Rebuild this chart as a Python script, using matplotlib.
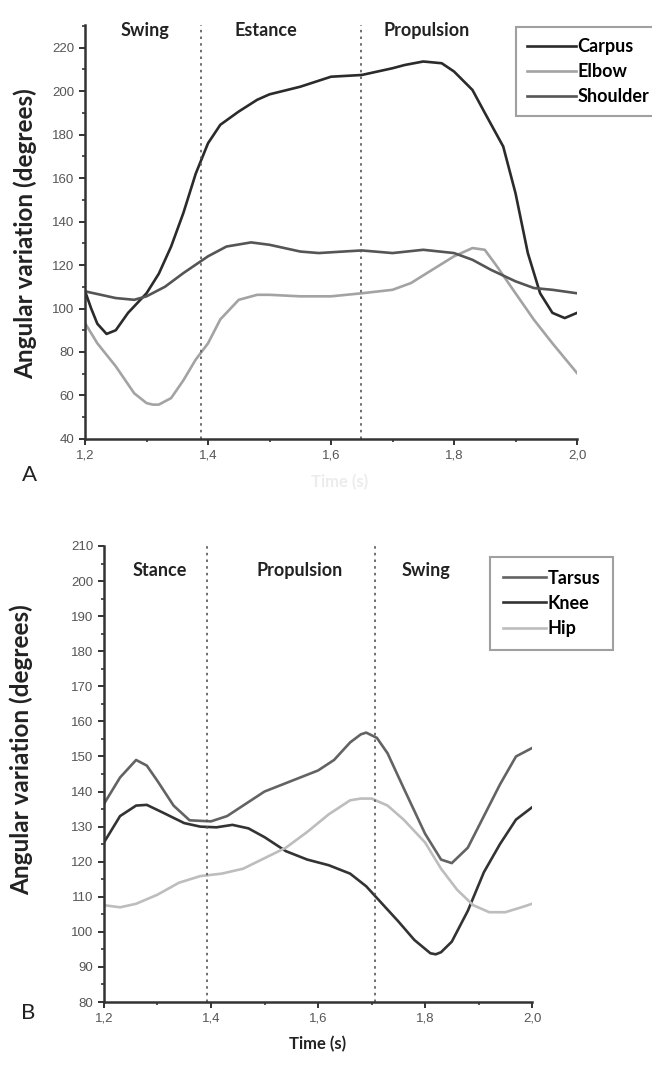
import matplotlib.pyplot as plt
from matplotlib.ticker import FuncFormatter, MultipleLocator

# Panel A: forelimb joints
time_a = [1.2, 1.21, 1.22, 1.235, 1.25, 1.27, 1.3, 1.32, 1.34, 1.36, 1.38, 1.4,
          1.42, 1.45, 1.48, 1.5, 1.55, 1.6, 1.65, 1.7, 1.72, 1.75, 1.78, 1.8, 1.83,
          1.85, 1.88, 1.9, 1.92, 1.94, 1.96, 1.98, 2.0]
carpus = [108, 100, 93, 88.3, 90, 98, 107, 116, 128.5, 144, 162, 176,
          184.5, 190.6, 196, 198.5, 202, 206.6, 207.4, 210.5, 212, 213.6, 212.8, 209, 200.5,
          190, 174.5, 153, 125.5, 107, 98, 95.6, 98]

time_elbow = [1.2, 1.22, 1.25, 1.28, 1.3, 1.31, 1.32, 1.34, 1.36, 1.38, 1.4, 1.42, 1.45,
              1.48, 1.5, 1.55, 1.6, 1.65, 1.7, 1.73, 1.76, 1.8, 1.83, 1.85, 1.87,
              1.9, 1.93, 1.96, 2.0]
elbow = [93.3, 84, 73.4, 61, 56.5, 55.8, 55.8, 58.8, 67, 76.5, 84, 95, 104,
         106.3, 106.3, 105.6, 105.6, 107, 108.6, 111.7, 117, 124, 127.8, 127, 119.3,
         107, 94.8, 84, 70.3]

time_shoulder = [1.2, 1.25, 1.28, 1.3, 1.33, 1.36, 1.4, 1.43, 1.47, 1.5, 1.55, 1.58,
                 1.62, 1.65, 1.7, 1.75, 1.8, 1.83, 1.86, 1.9, 1.93, 1.96, 2.0]
shoulder = [107.9, 104.8, 104, 105.6, 110, 116.3, 124, 128.5, 130.4, 129.3, 126.2, 125.5,
            126.2, 126.7, 125.5, 127, 125.5, 122.4, 117.8, 112.5, 109.4, 108.6, 107]

# Panel B: hindlimb joints
time_tarsus = [1.2, 1.23, 1.26, 1.28, 1.3, 1.33, 1.36, 1.4, 1.43, 1.46, 1.5, 1.55,
               1.6, 1.63, 1.66, 1.68, 1.69, 1.71, 1.73, 1.76, 1.8, 1.83, 1.85, 1.88, 1.91,
               1.94, 1.97, 2.0]
tarsus = [136.5, 144, 149, 147.4, 143, 136, 131.8, 131.5, 133, 136, 140, 143,
          146, 149, 154, 156.3, 156.8, 155.3, 150.9, 141, 128, 120.6, 119.6, 124, 133,
          142, 150, 152.4]

time_knee = [1.2, 1.23, 1.26, 1.28, 1.31, 1.35, 1.38, 1.41, 1.44, 1.47, 1.5, 1.54,
             1.58, 1.62, 1.66, 1.69, 1.72, 1.75, 1.78, 1.81, 1.82, 1.83, 1.85, 1.88, 1.91,
             1.94, 1.97, 2.0]
knee = [125.5, 133, 136, 136.2, 134, 131, 130, 129.8, 130.5, 129.5, 127, 123,
        120.6, 119, 116.6, 113, 108, 103, 97.7, 93.9, 93.6, 94.2, 97.2, 106, 117,
        125, 132, 135.5]

time_hip = [1.2, 1.23, 1.26, 1.3, 1.34, 1.38, 1.42, 1.46, 1.5, 1.54, 1.58, 1.62,
            1.66, 1.68, 1.7, 1.73, 1.76, 1.8, 1.83, 1.86, 1.89, 1.92, 1.95, 1.98, 2.0]
hip = [107.6, 107, 108, 110.6, 114, 115.9, 116.6, 118, 121, 124, 128.5, 133.5,
       137.5, 138, 138, 136, 132, 125.5, 118, 112, 107.6, 105.6, 105.6, 107, 108]

PHASES_A = [("Swing", 1.298), ("Estance", 1.494), ("Propulsion", 1.755)]
PHASES_B = [("Stance", 1.305), ("Propulsion", 1.565), ("Swing", 1.802)]
BOUNDS_A = [1.389, 1.649]
BOUNDS_B = [1.392, 1.707]

BOLD = "Lato"
TICK_FONT = "Liberation Sans"


def comma(x, _pos):
    return f"{x:.1f}".replace(".", ",")


def style_axes(ax, ylim, major, minor):
    ax.set_xlim(1.2, 2.0)
    ax.set_ylim(*ylim)
    for side in ("top", "right"):
        ax.spines[side].set_visible(False)
    for side in ("left", "bottom"):
        ax.spines[side].set_linewidth(1.8)
        ax.spines[side].set_color("#333333")
    ax.xaxis.set_major_locator(MultipleLocator(0.2))
    ax.xaxis.set_minor_locator(MultipleLocator(0.1))
    ax.xaxis.set_major_formatter(FuncFormatter(comma))
    ax.yaxis.set_major_locator(MultipleLocator(major))
    ax.yaxis.set_minor_locator(MultipleLocator(minor))
    ax.tick_params(which="major", direction="out", length=4, width=1.4,
                   color="#333333", labelsize=9.5, labelcolor="#555555")
    ax.tick_params(which="minor", direction="out", length=2.5, width=1.2,
                   color="#333333")
    for lab in ax.get_xticklabels() + ax.get_yticklabels():
        lab.set_family(TICK_FONT)
    ax.set_ylabel("Angular variation (degrees)", fontsize=17.5,
                  fontweight="bold", family=BOLD, color="#222222")


fig = plt.figure(figsize=(6.52, 10.67), dpi=100)

# ---- Panel A
ax_a = fig.add_axes([0.1304, 0.5886, 0.7546, 0.388])
ax_a.plot(time_a, carpus, color="#2b2b2b", lw=1.9, label="Carpus")
ax_a.plot(time_elbow, elbow, color="#a3a3a3", lw=1.9, label="Elbow")
ax_a.plot(time_shoulder, shoulder, color="#555555", lw=1.9, label="Shoulder")
for b in BOUNDS_A:
    ax_a.axvline(b, color="#555555", lw=1.2, ls=(0, (1.5, 2.5)))
for name, x in PHASES_A:
    ax_a.text(x, 228, name, ha="center", va="center", fontsize=13,
              fontweight="bold", family=BOLD, color="#222222")
style_axes(ax_a, (40, 230.4), 20, 10)
ax_a.yaxis.set_label_coords(-0.0976, 0.495)
leg_a = ax_a.legend(loc="upper left", bbox_to_anchor=(507 / 652, 1 - 18 / 1067),
                    bbox_transform=fig.transFigure, frameon=True, fancybox=False,
                    handlelength=2.7, handletextpad=0.1, labelspacing=0.45,
                    borderpad=0.6, prop={"family": BOLD, "weight": "bold", "size": 13})
leg_a.get_frame().set_edgecolor("#888888")
leg_a.get_frame().set_linewidth(1.5)

fig.text(29 / 652, 1 - 475 / 1067, "A", fontsize=16, family=BOLD,
         ha="center", va="center", color="#222222")
fig.text(340 / 652, 1 - 482 / 1067, "Time (s)", fontsize=12, fontweight="bold",
         family=BOLD, ha="center", va="center", color="#ececec")

# ---- Panel B
ax_b = fig.add_axes([0.1595, 0.0609, 0.6565, 0.4274])
ax_b.plot(time_tarsus, tarsus, color="#636363", lw=1.9, label="Tarsus")
ax_b.plot(time_knee, knee, color="#333333", lw=1.9, label="Knee")
ax_b.plot(time_hip, hip, color="#bdbdbd", lw=1.9, label="Hip")
for b in BOUNDS_B:
    ax_b.axvline(b, color="#555555", lw=1.2, ls=(0, (1.5, 2.5)))
for name, x in PHASES_B:
    ax_b.text(x, 203, name, ha="center", va="center", fontsize=13,
              fontweight="bold", family=BOLD, color="#222222")
style_axes(ax_b, (80, 210), 10, 5)
ax_b.yaxis.set_label_coords(-0.166, 0.553)
ax_b.set_xlabel("Time (s)", fontsize=12, fontweight="bold", family=BOLD,
                color="#222222", labelpad=8)
leg_b = ax_b.legend(loc="upper left", bbox_to_anchor=(481 / 652, 1 - 548 / 1067),
                    bbox_transform=fig.transFigure, frameon=True, fancybox=False,
                    handlelength=2.4, handletextpad=0.1, labelspacing=0.45,
                    borderpad=0.7, prop={"family": BOLD, "weight": "bold", "size": 13})
leg_b.get_frame().set_edgecolor("#888888")
leg_b.get_frame().set_linewidth(1.5)

fig.text(28 / 652, 1 - 1013 / 1067, "B", fontsize=16, family=BOLD,
         ha="center", va="center", color="#222222")

fig.savefig("out.png", dpi=100, facecolor="white")
